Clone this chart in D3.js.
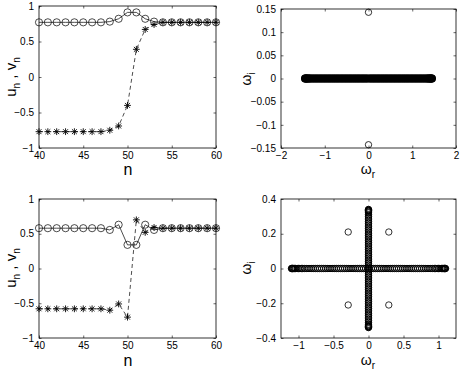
<!DOCTYPE html>
<html>
<head>
<meta charset="utf-8">
<script src="https://cdn.jsdelivr.net/npm/d3@7"></script>
<style>
  body { margin: 0; background: #fff; }
  text { font-family: "Liberation Sans", Arial, sans-serif; fill: #000; }
</style>
</head>
<body>
<svg width="463" height="371"></svg>
<script>
// lattice sites
const sites = [40, 41, 42, 43, 44, 45, 46, 47, 48, 49, 50, 51, 52, 53, 54, 55, 56, 57, 58, 59, 60];

// top row: profile u_n (circles) and v_n (stars)
const uTop = [0.77, 0.77, 0.77, 0.77, 0.77, 0.77, 0.77, 0.77, 0.78, 0.82, 0.91, 0.91, 0.82, 0.78, 0.77, 0.77, 0.77, 0.77, 0.77, 0.77, 0.77];
const vTop = [-0.77, -0.77, -0.77, -0.77, -0.77, -0.77, -0.77, -0.77, -0.75, -0.69, -0.40, 0.39, 0.67, 0.74, 0.77, 0.77, 0.77, 0.77, 0.77, 0.77, 0.77];

// bottom row
const uBot = [0.58, 0.58, 0.58, 0.58, 0.58, 0.58, 0.58, 0.58, 0.555, 0.63, 0.34, 0.34, 0.63, 0.555, 0.58, 0.58, 0.58, 0.58, 0.58, 0.58, 0.58];
const vBot = [-0.58, -0.58, -0.58, -0.58, -0.58, -0.58, -0.58, -0.58, -0.60, -0.51, -0.70, 0.70, 0.52, 0.59, 0.58, 0.58, 0.58, 0.58, 0.58, 0.58, 0.58];

// top spectrum: continuous band on the real axis + one imaginary pair
const specTopRe = [
  -1.45, -1.44, -1.43, -1.42, -1.40, -1.38, -1.36, -1.34, -1.31, -1.28, -1.25, -1.22, -1.19, -1.16, -1.13,
  -1.10, -1.07, -1.04, -1.01, -0.98, -0.95, -0.92, -0.89, -0.86, -0.83, -0.80, -0.77, -0.74, -0.71, -0.68,
  -0.65, -0.62, -0.59, -0.56, -0.53, -0.50, -0.47, -0.44, -0.41, -0.38, -0.35, -0.32, -0.29, -0.26, -0.23,
  -0.20, -0.17, -0.14, -0.11, -0.08, -0.05, -0.02,
  0.02, 0.05, 0.08, 0.11, 0.14, 0.17, 0.20, 0.23, 0.26, 0.29, 0.32, 0.35, 0.38, 0.41, 0.44, 0.47, 0.50,
  0.53, 0.56, 0.59, 0.62, 0.65, 0.68, 0.71, 0.74, 0.77, 0.80, 0.83, 0.86, 0.89, 0.92, 0.95, 0.98, 1.01,
  1.04, 1.07, 1.10, 1.13, 1.16, 1.19, 1.22, 1.25, 1.28, 1.31, 1.34, 1.36, 1.38, 1.40, 1.42, 1.43, 1.44, 1.45
];
const specTopIsoRe = [0, 0];
const specTopIsoIm = [0.143, -0.143];

// bottom spectrum: band on real axis, band on imaginary axis, quartet
const specBotRe = [
  -1.10, -1.095, -1.09, -1.085, -1.08, -1.07, -1.06, -1.05, -1.04, -1.02, -1.00, -0.98, -0.96, -0.94, -0.91,
  -0.88, -0.85, -0.82, -0.79, -0.76, -0.73, -0.70, -0.67, -0.64, -0.61, -0.58, -0.55, -0.52, -0.49, -0.46,
  -0.43, -0.40, -0.37, -0.34, -0.31, -0.28, -0.25, -0.22, -0.19, -0.16, -0.13, -0.10, -0.07, -0.04, -0.01,
  0.01, 0.04, 0.07, 0.10, 0.13, 0.16, 0.19, 0.22, 0.25, 0.28, 0.31, 0.34, 0.37, 0.40, 0.43, 0.46, 0.49,
  0.52, 0.55, 0.58, 0.61, 0.64, 0.67, 0.70, 0.73, 0.76, 0.79, 0.82, 0.85, 0.88, 0.91, 0.94, 0.96, 0.98,
  1.00, 1.02, 1.04, 1.05, 1.06, 1.07, 1.08, 1.085, 1.09, 1.095, 1.10
];
const specBotIm = [
  -0.34, -0.337, -0.335, -0.332, -0.33, -0.325, -0.32, -0.31, -0.30, -0.29, -0.28, -0.27, -0.26, -0.25, -0.24,
  -0.23, -0.22, -0.21, -0.20, -0.19, -0.18, -0.17, -0.16, -0.15, -0.14, -0.13, -0.12, -0.11, -0.10, -0.09,
  -0.08, -0.07, -0.06, -0.05, -0.04, -0.03, -0.02, -0.01,
  0.01, 0.02, 0.03, 0.04, 0.05, 0.06, 0.07, 0.08, 0.09, 0.10, 0.11, 0.12, 0.13, 0.14, 0.15, 0.16, 0.17,
  0.18, 0.19, 0.20, 0.21, 0.22, 0.23, 0.24, 0.25, 0.26, 0.27, 0.28, 0.29, 0.30, 0.31, 0.32, 0.325, 0.33,
  0.332, 0.335, 0.337, 0.34
];
const quartetRe = [0.29, -0.29, 0.29, -0.29];
const quartetIm = [0.21, 0.21, -0.21, -0.21];

// tick values
const ticksN = [40, 45, 50, 55, 60];
const ticksU = [-1, -0.5, 0, 0.5, 1];
const ticksTopRe = [-2, -1, 0, 1, 2];
const ticksTopIm = [-0.15, -0.1, -0.05, 0, 0.05, 0.1, 0.15];
const ticksBotRe = [-1, -0.5, 0, 0.5, 1];
const ticksBotIm = [-0.4, -0.2, 0, 0.2, 0.4];

const svg = d3.select("svg");
const fmt = d3.format("");
const TICK = 2.5;

function makePanel(box, xDom, yDom, xTicks, yTicks) {
  const x = d3.scaleLinear().domain(xDom).range([box.x0, box.x1]);
  const y = d3.scaleLinear().domain(yDom).range([box.y1, box.y0]);
  const g = svg.append("g");

  const axes = [
    [d3.axisBottom(x).tickValues(xTicks).tickFormat(fmt), box.y1, true],
    [d3.axisTop(x).tickValues(xTicks).tickFormat(""), box.y0, false],
  ];
  axes.forEach(([ax, pos, lab]) => {
    const a = g.append("g")
      .attr("transform", `translate(0,${pos})`)
      .call(ax.tickSizeInner(-TICK).tickSizeOuter(0).tickPadding(lab ? 4 : 0));
    a.select(".domain").remove();
    a.selectAll("line").attr("stroke", "#000").attr("stroke-width", 0.6);
    a.selectAll("text").attr("font-size", 10).attr("fill", "#000");
  });
  const yaxes = [
    [d3.axisLeft(y).tickValues(yTicks).tickFormat(fmt), box.x0, true],
    [d3.axisRight(y).tickValues(yTicks).tickFormat(""), box.x1, false],
  ];
  yaxes.forEach(([ax, pos, lab]) => {
    const a = g.append("g")
      .attr("transform", `translate(${pos},0)`)
      .call(ax.tickSizeInner(-TICK).tickSizeOuter(0).tickPadding(lab ? 5 : 0));
    a.select(".domain").remove();
    a.selectAll("line").attr("stroke", "#000").attr("stroke-width", 0.6);
    a.selectAll("text").attr("font-size", 10).attr("fill", "#000");
  });

  g.append("rect")
    .attr("x", box.x0).attr("y", box.y0)
    .attr("width", box.x1 - box.x0).attr("height", box.y1 - box.y0)
    .attr("fill", "none").attr("stroke", "#000").attr("stroke-width", 0.8);

  return { g, x, y };
}

function starPath(s) {
  const k = s * 0.72;
  return `M${-s},0L${s},0M0,${-s}L0,${s}M${-k},${-k}L${k},${k}M${-k},${k}L${k},${-k}`;
}

function profilePanel(box, u, v) {
  const { g, x, y } = makePanel(box, [40, 60], [-1, 1], ticksN, ticksU);
  const line = d3.line().x((d, i) => x(sites[i])).y((d) => y(d));

  g.append("path").datum(u).attr("d", line)
    .attr("fill", "none").attr("stroke", "#000").attr("stroke-width", 0.7);
  g.append("path").datum(v).attr("d", line)
    .attr("fill", "none").attr("stroke", "#000").attr("stroke-width", 0.7)
    .attr("stroke-dasharray", "4,3");

  g.selectAll(".u").data(u).join("circle")
    .attr("cx", (d, i) => x(sites[i])).attr("cy", (d) => y(d)).attr("r", 3.6)
    .attr("fill", "none").attr("stroke", "#000").attr("stroke-width", 0.7);
  g.selectAll(".v").data(v).join("path")
    .attr("transform", (d, i) => `translate(${x(sites[i])},${y(d)})`)
    .attr("d", starPath(3.4))
    .attr("fill", "none").attr("stroke", "#000").attr("stroke-width", 0.9);
  return g;
}

function spectrumPanel(box, xDom, yDom, xTicks, yTicks, band, bandWidth, iso) {
  const { g, x, y } = makePanel(box, xDom, yDom, xTicks, yTicks);
  g.selectAll(".band").data(band).join("circle")
    .attr("cx", (d) => x(d[0])).attr("cy", (d) => y(d[1])).attr("r", 3.2)
    .attr("fill", "none").attr("stroke", "#000").attr("stroke-width", bandWidth);
  g.selectAll(".iso").data(iso).join("circle")
    .attr("cx", (d) => x(d[0])).attr("cy", (d) => y(d[1])).attr("r", 3.2)
    .attr("fill", "none").attr("stroke", "#000").attr("stroke-width", 0.8);
  return g;
}

function yLabelU(cx, cy) {
  const t = svg.append("text")
    .attr("transform", `translate(${cx},${cy}) rotate(-90)`)
    .attr("text-anchor", "middle").attr("font-size", 15);
  t.append("tspan").text("u");
  t.append("tspan").attr("font-size", 10).attr("dy", 4).text("n");
  t.append("tspan").attr("dy", -4).text(" , v");
  t.append("tspan").attr("font-size", 10).attr("dy", 4).text("n");
}

function omegaLabel(xp, yp, sub, rotate) {
  const t = svg.append("text")
    .attr("transform", `translate(${xp},${yp})` + (rotate ? " rotate(-90)" : ""))
    .attr("text-anchor", "middle").attr("font-size", 14);
  t.append("tspan").text("\u03c9");
  t.append("tspan").attr("font-size", 10).attr("dy", 4).text(sub);
}

// panels
const boxTL = { x0: 39, x1: 216, y0: 6, y1: 148 };
const boxTR = { x0: 281, x1: 456, y0: 9, y1: 148 };
const boxBL = { x0: 39, x1: 216, y0: 199, y1: 338 };
const boxBR = { x0: 281, x1: 456, y0: 199, y1: 338 };

profilePanel(boxTL, uTop, vTop);
profilePanel(boxBL, uBot, vBot);

const topBand = specTopRe.map((r) => [r, 0]);
const topIso = specTopIsoRe.map((r, i) => [r, specTopIsoIm[i]]);
spectrumPanel(boxTR, [-2, 2], [-0.15, 0.15], ticksTopRe, ticksTopIm, topBand, 1.8, topIso);

const botBand = specBotRe.map((r) => [r, 0]).concat(specBotIm.map((m) => [0, m]));
const botIso = quartetRe.map((r, i) => [r, quartetIm[i]]);
spectrumPanel(boxBR, [-1.25, 1.25], [-0.4, 0.4], ticksBotRe, ticksBotIm, botBand, 1.0, botIso);

// axis titles
svg.append("text").attr("x", 128).attr("y", 175).attr("text-anchor", "middle")
  .attr("font-size", 16).text("n");
svg.append("text").attr("x", 128).attr("y", 366).attr("text-anchor", "middle")
  .attr("font-size", 16).text("n");
yLabelU(16, 77);
yLabelU(16, 268);
omegaLabel(251, 79, "i", true);
omegaLabel(251, 268, "i", true);
omegaLabel(368, 174, "r", false);
omegaLabel(368, 365, "r", false);
</script>
</body>
</html>
